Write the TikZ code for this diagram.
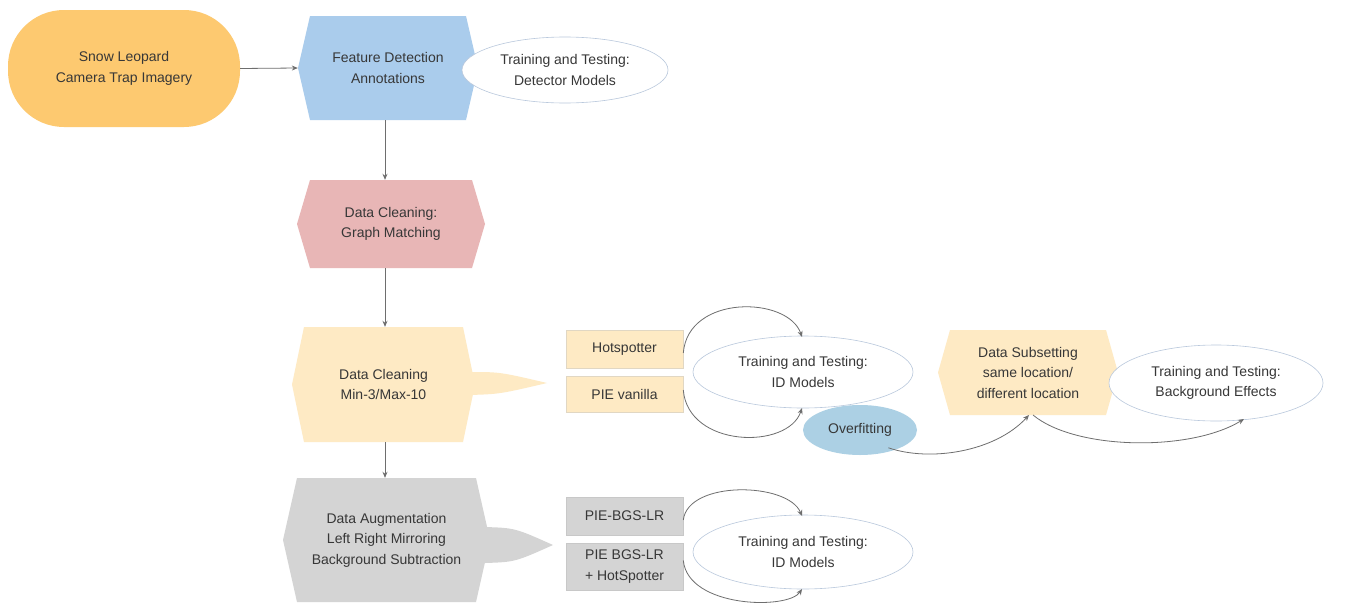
\documentclass[tikz,border=0pt]{standalone}
\usepackage{fontspec}
\setmainfont{Liberation Sans}
\usetikzlibrary{shapes.geometric,arrows.meta}
\definecolor{cOrange}{RGB}{253,201,112}
\definecolor{cBlue}{RGB}{170,204,236}
\definecolor{cPink}{RGB}{232,182,182}
\definecolor{cYel}{RGB}{254,234,196}
\definecolor{cGray}{RGB}{212,212,212}
\definecolor{cOvf}{RGB}{172,208,228}
\definecolor{cLine}{RGB}{110,110,110}
\definecolor{cEll}{RGB}{185,200,220}
\definecolor{cTxt}{RGB}{55,55,55}
\definecolor{cBoxY}{RGB}{225,215,195}
\definecolor{cBoxG}{RGB}{200,200,200}
\newcommand\hexnode[8]{%
  \fill[#7] (#2-#4+#6,#3-#5) -- (#2+#4-#6,#3-#5) -- (#2+#4,#3) -- (#2+#4-#6,#3+#5)
     -- (#2-#4+#6,#3+#5) -- (#2-#4,#3) -- cycle;
  \node[txt, inner sep=0pt, minimum width={2*#4pt}, minimum height={2*#5pt}] (#1) at (#2,#3) {#8};
}
\begin{document}
\begin{tikzpicture}[x=1pt,y=-1pt,
  txt/.style={text=cTxt, font=\fontsize{14}{20.5}\selectfont, align=center},
  conn/.style={draw=cLine, line width=0.8pt, -{Stealth[length=6pt,width=5pt]}},
  ell/.style={txt, ellipse, draw=cEll, line width=0.6pt, fill=white, inner sep=0pt},
  boxY/.style={txt, rectangle, fill=cYel, draw=cBoxY, line width=0.6pt, inner sep=0pt, minimum width=117pt},
  boxG/.style={txt, rectangle, fill=cGray, draw=cBoxG, line width=0.6pt, inner sep=0pt, minimum width=117pt}]
\useasboundingbox[fill=white] (0,0) rectangle (1359,605);

% Snow Leopard
\node[txt, fill=cOrange, rectangle, rounded corners=56pt, minimum width=232pt, minimum height=117pt] (sl) at (124,68.5) {Snow Leopard\\Camera Trap Imagery};

% hexagons
\hexnode{fd}{388}{68}{90}{52}{12}{cBlue}{Feature Detection\\Annotations}
\hexnode{gm}{391}{224}{94}{44}{13}{cPink}{Data Cleaning:\\Graph Matching}
\fill[cYel] (470,372) .. controls (500,372) .. (547,383) .. controls (500,394) .. (470,395) -- cycle;
\hexnode{dc}{383.5}{384.5}{91.5}{57.5}{12}{cYel}{Data Cleaning\\Min-3/Max-10}
\fill[cGray] (485,527) .. controls (515,528) .. (553,545) .. controls (515,562) .. (485,563) -- cycle;
\hexnode{da}{386.5}{540}{103.5}{62}{14}{cGray}{Data Augmentation\\Left Right Mirroring\\Background Subtraction}
\hexnode{ds}{1028}{372.5}{90}{42.5}{12}{cYel}{Data Subsetting\\same location/\\different location}

% ellipses
\node[ell, minimum width=206pt, minimum height=66pt] (det) at (565,70) {Training and Testing:\\Detector Models};
\node[ell, minimum width=220pt, minimum height=72pt] (id1) at (803,372) {Training and Testing:\\ID Models};
\node[txt, ellipse, fill=cOvf, inner sep=0pt, minimum width=114pt, minimum height=50pt] (ovf) at (860,430) {Overfitting};
\node[ell, minimum width=214pt, minimum height=76pt] (bg) at (1216,383) {Training and Testing:\\Background Effects};
\node[ell, minimum width=220pt, minimum height=74pt] (id2) at (803,552) {Training and Testing:\\ID Models};

% boxes
\node[boxY, minimum height=38pt] (hs) at (624.5,349) {Hotspotter};
\node[boxY, minimum height=36pt] (pv) at (624.5,394) {PIE vanilla};
\node[boxG, minimum height=38pt] (pb) at (624.5,516) {PIE-BGS-LR};
\node[boxG, minimum height=47pt] (ph) at (624.5,566.5) {PIE BGS-LR\\+ HotSpotter};

% connectors
\coordinate (vx) at (385,0);
\draw[conn] (sl.east) -- (fd.west);
\draw[conn] (vx |- fd.south) -- (vx |- gm.north);
\draw[conn] (vx |- gm.south) -- (vx |- dc.north);
\draw[conn] (vx |- dc.south) -- (vx |- da.north);
\coordinate (id1t) at (802,337);
\coordinate (id1b) at (802,408);
\coordinate (id2t) at (802,516);
\coordinate (id2b) at (802,589);
\draw[conn] ([yshift=-4pt]hs.east) .. controls (688,294) and (788,296) .. (id1t);
\draw[conn] ([yshift=4pt]pv.east) .. controls (688,448) and (788,450) .. (id1b);
\draw[conn] ([yshift=-4pt]pb.east) .. controls (688,480) and (788,482) .. (id2t);
\draw[conn] ([yshift=6pt]ph.east) .. controls (688,608) and (788,610) .. (id2b);
\coordinate (dsb) at (1029,415);
\coordinate (bgb) at (1244,419);
\draw[conn] ([xshift=-12pt]ovf.south east) .. controls (930,462) and (995,452) .. (dsb);
\draw[conn] ([xshift=4pt]dsb) .. controls (1075,450) and (1190,452) .. (bgb);
\end{tikzpicture}
\end{document}
